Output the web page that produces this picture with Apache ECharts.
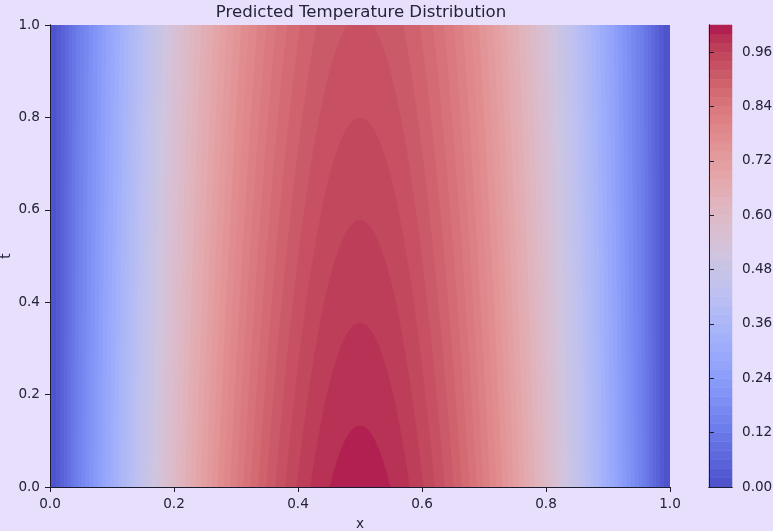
<!DOCTYPE html>
<html><head><meta charset="utf-8">
<script src="https://cdn.jsdelivr.net/npm/echarts@6/dist/echarts.min.js"></script>
<style>html,body{margin:0;padding:0;background:#e7dffc;}#c{width:773px;height:531px;}</style>
</head><body><div id="c"></div>
<script>
// ---- data ----
const xGrid = [0,0.05,0.1,0.15,0.2,0.25,0.3,0.35,0.4,0.45,0.5,0.55,0.6,0.65,0.7,0.75,0.8,0.85,0.9,0.95,1];
const tGrid = [0,0.25,0.5,0.75,1];
const tempT000 = [0,0.1583,0.3127,0.4594,0.5948,0.7156,0.8187,0.9017,0.9625,0.9995,1.0120,0.9995,0.9625,0.9017,0.8187,0.7156,0.5948,0.4594,0.3127,0.1583,0];
const tempT025 = [0,0.1548,0.3058,0.4492,0.5816,0.6997,0.8005,0.8817,0.9411,0.9773,0.9895,0.9773,0.9411,0.8817,0.8005,0.6997,0.5816,0.4492,0.3058,0.1548,0];
const tempT050 = [0,0.1513,0.2988,0.4390,0.5684,0.6838,0.7823,0.8616,0.9197,0.9551,0.9670,0.9551,0.9197,0.8616,0.7823,0.6838,0.5684,0.4390,0.2988,0.1513,0];
const tempT075 = [0,0.1478,0.2919,0.4288,0.5552,0.6679,0.7641,0.8416,0.8983,0.9329,0.9445,0.9329,0.8983,0.8416,0.7641,0.6679,0.5552,0.4288,0.2919,0.1478,0];
const tempT100 = [0,0.1442,0.2849,0.4186,0.5419,0.6520,0.7459,0.8215,0.8769,0.9107,0.9220,0.9107,0.8769,0.8215,0.7459,0.6520,0.5419,0.4186,0.2849,0.1442,0];
const temperatureRows = [tempT000, tempT025, tempT050, tempT075, tempT100];
const contourLevels = [0,0.02,0.04,0.06,0.08,0.1,0.12,0.14,0.16,0.18,0.2,0.22,0.24,0.26,0.28,0.3,0.32,0.34,0.36,0.38,0.4,0.42,0.44,0.46,0.48,0.5,0.52,0.54,0.56,0.58,0.6,0.62,0.64,0.66,0.68,0.7,0.72,0.74,0.76,0.78,0.8,0.82,0.84,0.86,0.88,0.9,0.92,0.94,0.96,0.98,1.0,1.02];
const axisTicks = [0,0.2,0.4,0.6,0.8,1.0];
const colorbarTicks = [0,0.12,0.24,0.36,0.48,0.60,0.72,0.84,0.96];

// ---- coolwarm colormap ----
const CW = [
[0.2298057,0.298717966,0.753683153],[0.26623388,0.353094838,0.801466763],[0.30386891,0.406535296,0.84495867],
[0.342804478,0.458757618,0.883725899],[0.38301334,0.50941904,0.917387822],[0.424369608,0.558148092,0.945619588],
[0.46666708,0.604562568,0.968154911],[0.509635204,0.648280772,0.98478814],[0.552953156,0.688929332,0.995375608],
[0.596262162,0.726149107,0.999836203],[0.639176211,0.759599947,0.998151185],[0.681291281,0.788964712,0.990363227],
[0.722193294,0.813952739,0.976574709],[0.761464949,0.834302879,0.956945269],[0.798691636,0.849786142,0.931688648],
[0.833466556,0.860207984,0.901068838],[0.865395197,0.86541021,0.865395561],[0.897787179,0.848937047,0.820880546],
[0.924127593,0.827384882,0.774508472],[0.944468518,0.800927443,0.726736146],[0.958852946,0.769767752,0.678007945],
[0.96732803,0.734132809,0.628751763],[0.969954137,0.694266682,0.579375448],[0.966811177,0.650421156,0.530263762],
[0.958003065,0.602842431,0.481775914],[0.943660866,0.551750968,0.434243684],[0.923944917,0.49730856,0.387970225],
[0.89904617,0.439559467,0.343229596],[0.869186849,0.378313092,0.300267182],[0.834620542,0.312874446,0.259301199],
[0.795631745,0.24128379,0.220525627],[0.752534934,0.157246067,0.184115123],[0.705673158,0.01555616,0.150232812]];
const TINT = [150,100,235];
const ALPHA = 0.8;
function coolwarm(v){
  v = Math.max(0, Math.min(1, v));
  const p = v*(CW.length-1), i = Math.min(Math.floor(p), CW.length-2), f = p-i;
  const c = [0,1,2].map(k => (CW[i][k]*(1-f)+CW[i+1][k]*f)*255);
  const o = c.map((ch,k)=>Math.round(ch*ALPHA + TINT[k]*(1-ALPHA)));
  return 'rgb('+o.join(',')+')';
}
const lvMin = contourLevels[0], lvMax = contourLevels[contourLevels.length-1];
const bandColors = contourLevels.slice(0,-1).map((l,i)=>coolwarm(((l+contourLevels[i+1])/2 - lvMin)/(lvMax-lvMin)));

// ---- evaluate field from grid (linear in t, Catmull-Rom in x) ----
function rowAt(t){
  let j = 0; while (j < tGrid.length-2 && t > tGrid[j+1]) j++;
  const w = (t - tGrid[j])/(tGrid[j+1]-tGrid[j]);
  return temperatureRows[j].map((v,k)=>v*(1-w)+temperatureRows[j+1][k]*w);
}
function cr(vals, x){
  const n = vals.length, h = xGrid[1]-xGrid[0];
  let p = (x - xGrid[0])/h, i = Math.min(Math.max(Math.floor(p),0), n-2), s = p - i;
  const p0 = vals[Math.max(i-1,0)], p1 = vals[i], p2 = vals[i+1], p3 = vals[Math.min(i+2,n-1)];
  const m1 = (p2-p0)/2, m2 = (p3-p1)/2, s2 = s*s, s3 = s2*s;
  return (2*s3-3*s2+1)*p1 + (s3-2*s2+s)*m1 + (-2*s3+3*s2)*p2 + (s3-s2)*m2;
}
const NT = 300, NX = 1500;
const tS = [], profiles = [];
for (let a=0;a<=NT;a++){
  const t = a/NT; tS.push(t);
  const row = rowAt(t), f = new Float64Array(NX+1);
  for (let b=0;b<=NX;b++) f[b] = cr(row, b/NX);
  profiles.push(f);
}
function polygonForLevel(L){
  const left = [], right = [];
  let lastPeak = null, apex = null;
  for (let a=0;a<=NT;a++){
    const f = profiles[a];
    let imax = 0; for (let b=1;b<=NX;b++) if (f[b]>f[imax]) imax=b;
    if (f[imax] < L){
      if (a>0 && lastPeak){
        const fr = (lastPeak.v - L)/(lastPeak.v - f[imax]);
        apex = [lastPeak.x, tS[a-1] + fr*(tS[a]-tS[a-1])];
      }
      break;
    }
    let i = imax; while (i>0 && f[i-1] >= L) i--;
    let xl = i/NX; if (i>0){ const fr=(L-f[i-1])/(f[i]-f[i-1]); xl = (i-1+fr)/NX; }
    let j = imax; while (j<NX && f[j+1] >= L) j++;
    let xr = j/NX; if (j<NX){ const fr=(f[j]-L)/(f[j]-f[j+1]); xr = (j+fr)/NX; }
    left.push([xl, tS[a]]); right.push([xr, tS[a]]);
    lastPeak = {v:f[imax], x:imax/NX};
  }
  const pts = left.slice();
  if (apex) pts.push(apex);
  return pts.concat(right.reverse());
}
const bandPolys = bandColors.map((c,k)=>{
  if (k===0) return {pts:[[0,0],[1,0],[1,1],[0,1]], color:c};
  return {pts: polygonForLevel(contourLevels[k]), color:c};
});

// ---- chart ----
const TXT = '#23233a', FONT = 'DejaVu Sans', AX = '#1c1c30';
const chart = echarts.init(document.getElementById('c'), null, {renderer:'canvas'});
const lineOnly = {show:true, lineStyle:{color:AX, width:1}};
const fmt1 = v => v.toFixed(1);
const plain = {axisTick:{show:false}, axisLabel:{show:false}, splitLine:{show:false}};
chart.setOption({
  backgroundColor:'#e7dffc',
  animation:false,
  title:{text:'Predicted Temperature Distribution', left:356, textAlign:'center', top:-1,
    textStyle:{fontFamily:FONT, fontSize:16.6, fontWeight:'normal', color:TXT}},
  grid:[
    {left:50, right:103, top:25, bottom:44, outerBoundsMode:'none', containLabel:false},
    {left:709, width:23, top:25, bottom:44, outerBoundsMode:'none', containLabel:false}
  ],
  xAxis:[
    {type:'value', gridIndex:0, min:0, max:1, interval:0.2, position:'bottom', z:5,
      name:'x', nameLocation:'middle', nameGap:30, nameMoveOverlap:false,
      nameTextStyle:{fontFamily:FONT, fontSize:13.6, color:TXT},
      axisLine:lineOnly, axisTick:{show:true, length:5, lineStyle:{color:AX}},
      axisLabel:{fontFamily:FONT, fontSize:13.6, color:TXT, margin:10, formatter:fmt1, customValues:axisTicks},
      splitLine:{show:false}},
    Object.assign({type:'value', gridIndex:0, min:0, max:1, position:'top', z:5, axisLine:lineOnly}, plain),
    Object.assign({type:'value', gridIndex:1, min:0, max:1, position:'bottom', z:5, axisLine:lineOnly}, plain),
    Object.assign({type:'value', gridIndex:1, min:0, max:1, position:'top', z:5, axisLine:lineOnly}, plain)
  ],
  yAxis:[
    {type:'value', gridIndex:0, min:0, max:1, interval:0.2, position:'left', z:5,
      name:'t', nameLocation:'middle', nameGap:37, nameRotate:90, nameMoveOverlap:false,
      nameTextStyle:{fontFamily:FONT, fontSize:13.6, color:TXT},
      axisLine:lineOnly, axisTick:{show:true, length:5, lineStyle:{color:AX}},
      axisLabel:{fontFamily:FONT, fontSize:13.6, color:TXT, margin:10, formatter:fmt1, customValues:axisTicks},
      splitLine:{show:false}},
    Object.assign({type:'value', gridIndex:0, min:0, max:1, position:'right', z:5, axisLine:lineOnly}, plain),
    Object.assign({type:'value', gridIndex:1, min:lvMin, max:lvMax, position:'left', z:5, axisLine:lineOnly}, plain),
    {type:'value', gridIndex:1, min:lvMin, max:lvMax, position:'right', z:5, axisLine:lineOnly,
      axisTick:{show:true, length:5, customValues:colorbarTicks, lineStyle:{color:AX}},
      axisLabel:{fontFamily:FONT, fontSize:13.6, color:TXT, margin:10, customValues:colorbarTicks,
        formatter:v=>v.toFixed(2)},
      splitLine:{show:false}}
  ],
  series:[
    {type:'custom', xAxisIndex:0, yAxisIndex:0, z:1, silent:true, clip:true,
      data: bandPolys.map(()=>[0,0]),
      renderItem:(params, api)=>{
        const p = bandPolys[params.dataIndex];
        return {type:'polygon', shape:{points:p.pts.map(q=>api.coord(q))}, style:{fill:p.color}};
      }},
    {type:'custom', xAxisIndex:2, yAxisIndex:2, z:1, silent:true,
      data: bandColors.map(()=>[0,0]),
      renderItem:(params, api)=>{
        const k = params.dataIndex;
        const a = api.coord([0, contourLevels[k]]), b = api.coord([1, contourLevels[k+1]]);
        return {type:'rect', shape:{x:a[0], y:b[1], width:b[0]-a[0], height:a[1]-b[1]},
          style:{fill:bandColors[k], stroke:bandColors[k], lineWidth:0.5}};
      }}
  ]
});
</script></body></html>
